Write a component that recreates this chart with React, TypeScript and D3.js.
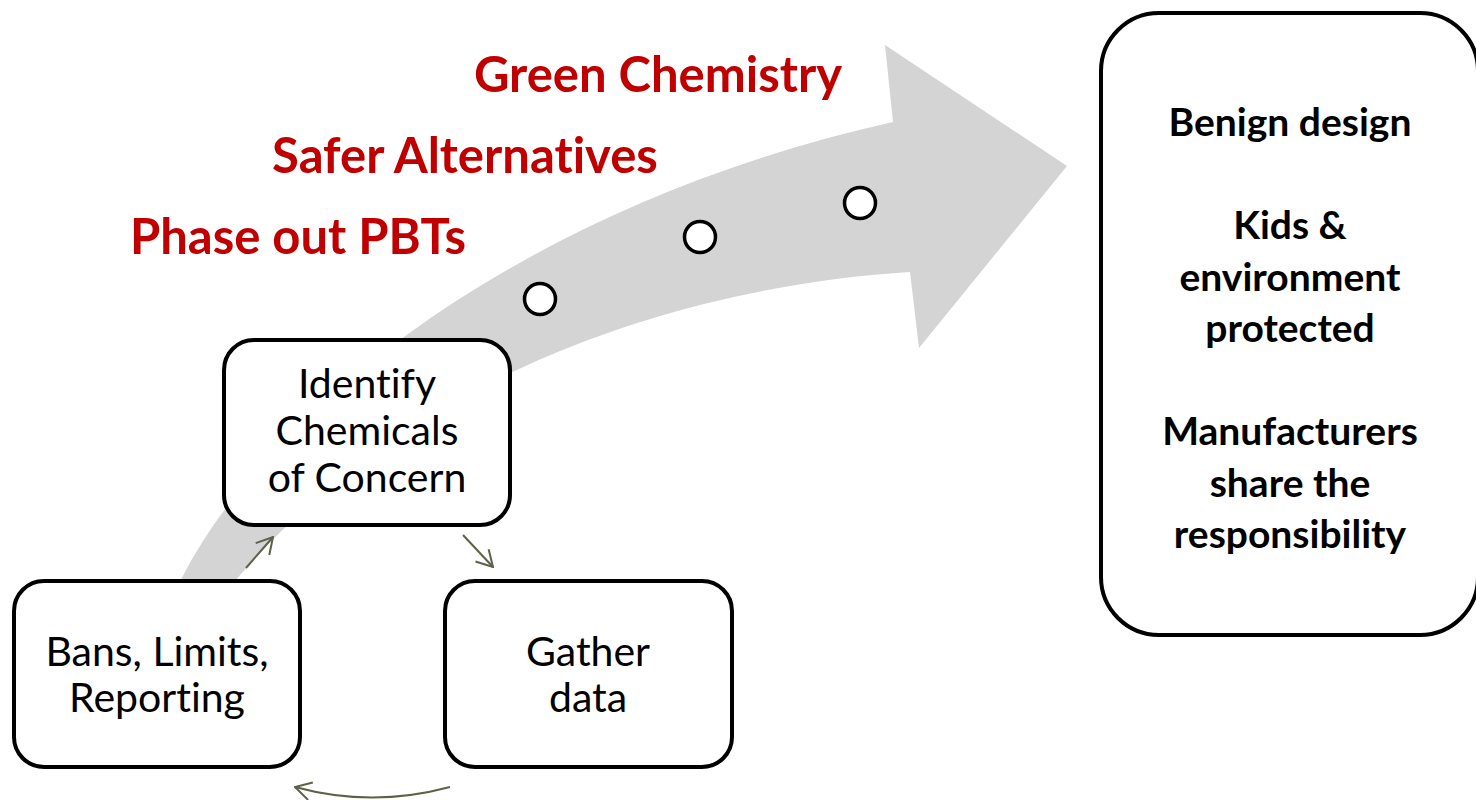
import React, { useEffect, useRef } from "react";
import * as d3 from "d3";

// ---- content ----
const stageLabels = ["Phase out PBTs", "Safer Alternatives", "Green Chemistry"];
const cycleBoxes = [
  { id: "identify", lines: ["Identify", "Chemicals", "of Concern"] },
  { id: "gather", lines: ["Gather", "data"] },
  { id: "bans", lines: ["Bans, Limits,", "Reporting"] },
];
const outcomeLines = [
  "Benign design",
  "",
  "Kids &",
  "environment",
  "protected",
  "",
  "Manufacturers",
  "share the",
  "responsibility",
];

// ---- layout ----
const W = 1476;
const H = 800;
const FONT = "Lato, 'Open Sans', sans-serif";
const RED = "#C00000";
const GRAY = "#d4d4d4";
const OLIVE = "#5c6148";

const stagePos = [
  { cx: 298, y: 254 },
  { cx: 465, y: 173 },
  { cx: 658, y: 92 },
];
const dotPos = [
  [540, 299],
  [700, 237],
  [860, 203],
];
const boxPos: Record<string, { x: number; y: number; w: number; h: number; cx: number; base: number; lh: number }> = {
  identify: { x: 224, y: 340, w: 286, h: 185, cx: 367, base: 398, lh: 47 },
  gather: { x: 445, y: 581, w: 287, h: 186, cx: 588, base: 666, lh: 46 },
  bans: { x: 14, y: 581, w: 286, h: 186, cx: 157, base: 666, lh: 46 },
};

export default function App() {
  const ref = useRef<SVGSVGElement | null>(null);

  useEffect(() => {
    const svg = d3.select(ref.current);
    svg.selectAll("*").remove();

    // big curved gray arrow
    const p = d3.path();
    p.moveTo(176, 590);
    p.bezierCurveTo(250, 430, 500, 210, 893, 122);
    p.lineTo(885, 45);
    p.lineTo(1067, 166);
    p.lineTo(919, 348);
    p.lineTo(910, 272);
    p.bezierCurveTo(700, 285, 410, 365, 226, 592);
    p.closePath();
    svg.append("path").attr("d", p.toString()).attr("fill", GRAY);

    // dots on the arrow
    svg
      .selectAll("circle.dot")
      .data(dotPos)
      .join("circle")
      .attr("class", "dot")
      .attr("cx", (d) => d[0])
      .attr("cy", (d) => d[1])
      .attr("r", 15.5)
      .attr("fill", "#fff")
      .attr("stroke", "#000")
      .attr("stroke-width", 3.5);

    // red stage labels
    svg
      .selectAll("text.stage")
      .data(stageLabels)
      .join("text")
      .attr("class", "stage")
      .attr("x", (_, i) => stagePos[i].cx)
      .attr("y", (_, i) => stagePos[i].y)
      .attr("text-anchor", "middle")
      .attr("font-family", FONT)
      .attr("font-weight", 700)
      .attr("font-size", 49)
      .style("font-variant-ligatures", "none")
      .attr("fill", RED)
      .text((d) => d);

    // cycle boxes
    const g = svg
      .selectAll("g.box")
      .data(cycleBoxes)
      .join("g")
      .attr("class", "box");
    g.append("rect")
      .attr("x", (d) => boxPos[d.id].x)
      .attr("y", (d) => boxPos[d.id].y)
      .attr("width", (d) => boxPos[d.id].w)
      .attr("height", (d) => boxPos[d.id].h)
      .attr("rx", 30)
      .attr("fill", "#fff")
      .attr("stroke", "#000")
      .attr("stroke-width", 4);
    g.each(function (d) {
      const b = boxPos[d.id];
      d3.select(this)
        .selectAll("text")
        .data(d.lines)
        .join("text")
        .attr("x", b.cx)
        .attr("y", (_, i) => b.base + i * b.lh)
        .attr("text-anchor", "middle")
        .attr("font-family", FONT)
        .attr("font-size", 41)
        .style("font-variant-ligatures", "none")
        .attr("fill", "#000")
        .text((t) => t);
    });

    // small cycle arrows
    const arrowDefs = svg.append("defs");
    arrowDefs
      .append("marker")
      .attr("id", "openArrow")
      .attr("viewBox", "0 0 18 20")
      .attr("refX", 17)
      .attr("refY", 10)
      .attr("markerWidth", 18)
      .attr("markerHeight", 20)
      .attr("markerUnits", "userSpaceOnUse")
      .attr("orient", "auto")
      .append("path")
      .attr("d", "M1,1 L17,10 L1,19")
      .attr("fill", "none")
      .attr("stroke", OLIVE)
      .attr("stroke-width", 2);
    const small = [
      "M246,568 L273,537",
      "M463,535 L493,567",
      "M450,787 Q372,808 295,787",
    ];
    svg
      .selectAll("path.cyc")
      .data(small)
      .join("path")
      .attr("class", "cyc")
      .attr("d", (d) => d)
      .attr("fill", "none")
      .attr("stroke", OLIVE)
      .attr("stroke-width", 2)
      .attr("marker-end", "url(#openArrow)");

    // outcome box
    svg
      .append("rect")
      .attr("x", 1101)
      .attr("y", 13)
      .attr("width", 377)
      .attr("height", 622)
      .attr("rx", 58)
      .attr("fill", "#fff")
      .attr("stroke", "#000")
      .attr("stroke-width", 4);
    svg
      .selectAll("text.out")
      .data(outcomeLines)
      .join("text")
      .attr("class", "out")
      .attr("x", 1290)
      .attr("y", (_, i) => 136 + i * 51.5)
      .attr("text-anchor", "middle")
      .attr("font-family", FONT)
      .attr("font-weight", 700)
      .attr("font-size", 39)
      .style("font-variant-ligatures", "none")
      .attr("fill", "#000")
      .text((d) => d);
  }, []);

  return (
    <svg
      ref={ref}
      width={W}
      height={H}
      style={{ position: "fixed", left: 0, top: 0, background: "#fff" }}
    />
  );
}
